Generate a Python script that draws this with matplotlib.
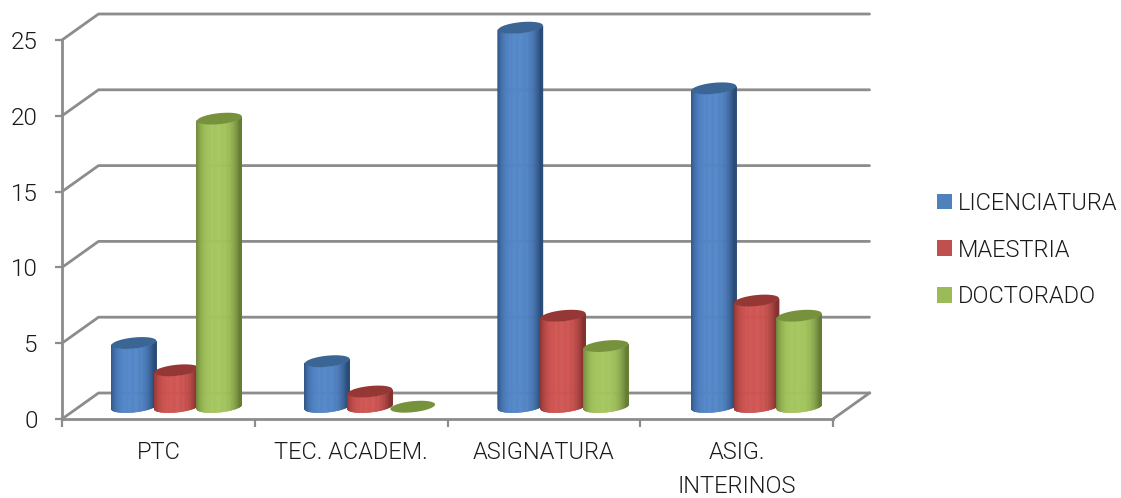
import numpy as np
import matplotlib
matplotlib.use("Agg")
import matplotlib.pyplot as plt
from matplotlib.collections import PolyCollection
from matplotlib.patches import Patch, Polygon

categories = ["PTC", "TEC. ACADEM.", "ASIGNATURA", "ASIG.\nINTERINOS"]
series_names = ["LICENCIATURA", "MAESTRIA", "DOCTORADO"]
licenciatura = [4.2, 3, 25, 21]
maestria = [2.4, 1, 6, 7]
doctorado = [19, 0, 4, 6]
y_ticks = [0, 5, 10, 15, 20, 25]

side_colors = ["#4F81BD", "#C0504D", "#9BBB59"]
light_colors = ["#5286C8", "#CF5451", "#A4C65D"]
dark_colors = ["#2A4C78", "#833130", "#667D36"]
cap_colors = ["#3B6595", "#953735", "#76923C"]
grid_color = "#8C8C8C"
text_color = "#1A1A1A"

W, H = 1121, 498
L, R, T, B = 62, 833, 40, 419
plt.rcParams["font.family"] = ["Roboto", "DejaVu Sans"]
plt.rcParams["font.weight"] = 300

fig = plt.figure(figsize=(W / 100, H / 100), dpi=100)
ax = fig.add_axes([L / W, (H - B) / H, (R - L) / W, (B - T) / H])
ax.set_xlim(0, len(categories))
ax.set_ylim(0, 25)

# pixels per data unit, used to keep the cylinders' ellipses round on screen
sx = (R - L) / len(categories)
sy = (B - T) / 25
depth_x = 36.5 / sx
depth_y = 26 / sy

# back wall, floor and side wall
lw = 2.0
for v in y_ticks:
    ax.plot([0, depth_x, len(categories) + depth_x], [v, v + depth_y, v + depth_y],
            color=grid_color, lw=lw, clip_on=False, zorder=1, solid_capstyle="round")
ax.plot([len(categories), len(categories) + depth_x], [0, depth_y],
        color=grid_color, lw=lw, clip_on=False, zorder=1)

for side in ["top", "right"]:
    ax.spines[side].set_visible(False)
for side in ["left", "bottom"]:
    ax.spines[side].set_color(grid_color)
    ax.spines[side].set_linewidth(lw)
    ax.spines[side].set_zorder(1)

ax.set_yticks(y_ticks)
ax.set_xticks(range(len(categories) + 1))
ax.set_xticklabels([])
ax.set_xticks([i + 0.5 for i in range(len(categories))], labels=categories, minor=True)
ax.tick_params(axis="both", which="major", length=5.4, width=1.6, color=grid_color)
ax.tick_params(axis="x", which="minor", length=0, pad=16, labelsize=17, labelcolor=text_color)
ax.tick_params(axis="y", which="major", pad=12, labelsize=17.5, labelcolor=text_color)
for lab in ax.get_xticklabels(minor=True):
    lab.set_linespacing(1.6)

a_px, b_px, tilt = 22.5, 5.5, np.deg2rad(6)
bar_step = 0.2218


def ellipse(cx, cy, t):
    """Tilted ellipse points in data coordinates, from the angle t."""
    px = a_px * np.cos(t) * np.cos(tilt) - b_px * np.sin(t) * np.sin(tilt)
    py = a_px * np.cos(t) * np.sin(tilt) + b_px * np.sin(t) * np.cos(tilt)
    return cx + px / sx, cy + py / sy


def cylinder(cx, value, k):
    base = depth_y / 2 - 0.7 / sy
    light = np.array(matplotlib.colors.to_rgb(light_colors[k]))
    dark = np.array(matplotlib.colors.to_rgb(dark_colors[k]))
    if value > 0:
        angles = np.linspace(np.pi - tilt, 2 * np.pi - tilt, 81)
        polys, cols = [], []
        for t0, t1 in zip(angles[:-1], angles[1:]):
            x0, y0 = ellipse(cx, base, t0)
            x1, y1 = ellipse(cx, base, t1)
            polys.append([(x0, y0), (x1, y1), (x1, y1 + value), (x0, y0 + value)])
            # shade by horizontal position: bright centre, dark rims
            across = -np.cos((t0 + t1) / 2 - np.pi + tilt)
            shade = np.clip(1 - abs(across + 0.05) ** 3.2, 0, 1)
            cols.append(dark + (light - dark) * shade)
        ax.add_collection(PolyCollection(polys, facecolors=cols, edgecolors=cols,
                                         linewidths=0.4, zorder=3 + k, clip_on=False))
    tt = np.linspace(0, 2 * np.pi, 80)
    xs, ys = ellipse(cx, base + value, tt)
    ax.add_patch(Polygon(np.column_stack([xs, ys]), closed=True, facecolor=cap_colors[k],
                         edgecolor="none", zorder=3 + k, clip_on=False))


for k, values in enumerate([licenciatura, maestria, doctorado]):
    for i, v in enumerate(values):
        cylinder(i + 0.5 + depth_x / 2 + (k - 1) * bar_step + 0.003 * i, v, k)

handles = [Patch(facecolor=c, edgecolor="none") for c in side_colors]
fig.legend(handles, series_names, loc="center left", bbox_to_anchor=(937 / W, 1 - 250 / H),
           frameon=False, fontsize=17, labelcolor=text_color, handlelength=0.64,
           handleheight=0.64, handletextpad=0.26, labelspacing=1.0, borderpad=0,
           borderaxespad=0)

fig.savefig("out.png", dpi=100)
